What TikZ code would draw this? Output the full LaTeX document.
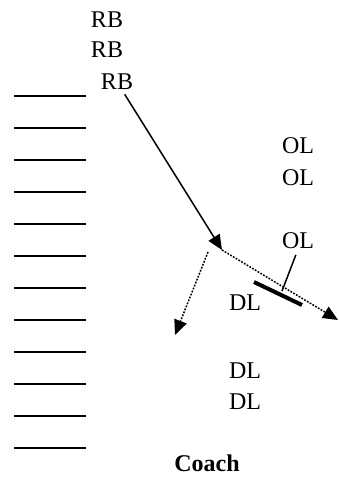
\documentclass[tikz,border=0pt]{standalone}
\usepackage{fontspec}
\setmainfont{Liberation Serif}
\usetikzlibrary{arrows.meta}

\begin{document}
\begin{tikzpicture}[x=1pt,y=-1pt,
  player/.style={font=\fontsize{24}{28}\selectfont,inner sep=0pt},
  route/.style={line width=1.5pt,-{Triangle[length=15pt,width=13pt]}},
  option/.style={route,dash pattern=on 1.8pt off 1.4pt}]
\useasboundingbox (0,0) rectangle (339,477);
% yard lines
\foreach \k in {0,...,11}
  \draw[line width=2.2pt] (14,96+32*\k) -- (86,96+32*\k);
% backs
\node[player] (rb1) at (107,20) {RB};
\node[player] (rb2) at (107,50) {RB};
\node[player] (rb3) at (117,82) {RB};
% offensive line
\node[player] (ol1) at (298,146) {OL};
\node[player] (ol2) at (298,178) {OL};
\node[player] (ol3) at (298,241) {OL};
% defensive line
\node[player] (dl1) at (245,303) {DL};
\node[player] (dl2) at (245,371) {DL};
\node[player] (dl3) at (245,402) {DL};
\node[player,font=\fontsize{24}{28}\selectfont\bfseries,anchor=base] (coach) at (207,471) {Coach};
% routes
\coordinate (mesh) at (222,250);
\coordinate (pitch) at (208,252);
\coordinate (flat) at (338,320);
\coordinate (wheel) at (175,335);
\coordinate (blockA) at (254,282);
\coordinate (blockB) at (302,305);
\coordinate (blockC) at (282,291);
\draw[route,shorten <=5pt] (rb3) -- (mesh);
\draw[option] (mesh) -- (flat);
\draw[option] (pitch) -- (wheel);
\draw[line width=4pt] (blockA) -- (blockB);
\draw[line width=1.5pt,shorten >=6pt] (blockC) -- (ol3.south);
\end{tikzpicture}
\end{document}
